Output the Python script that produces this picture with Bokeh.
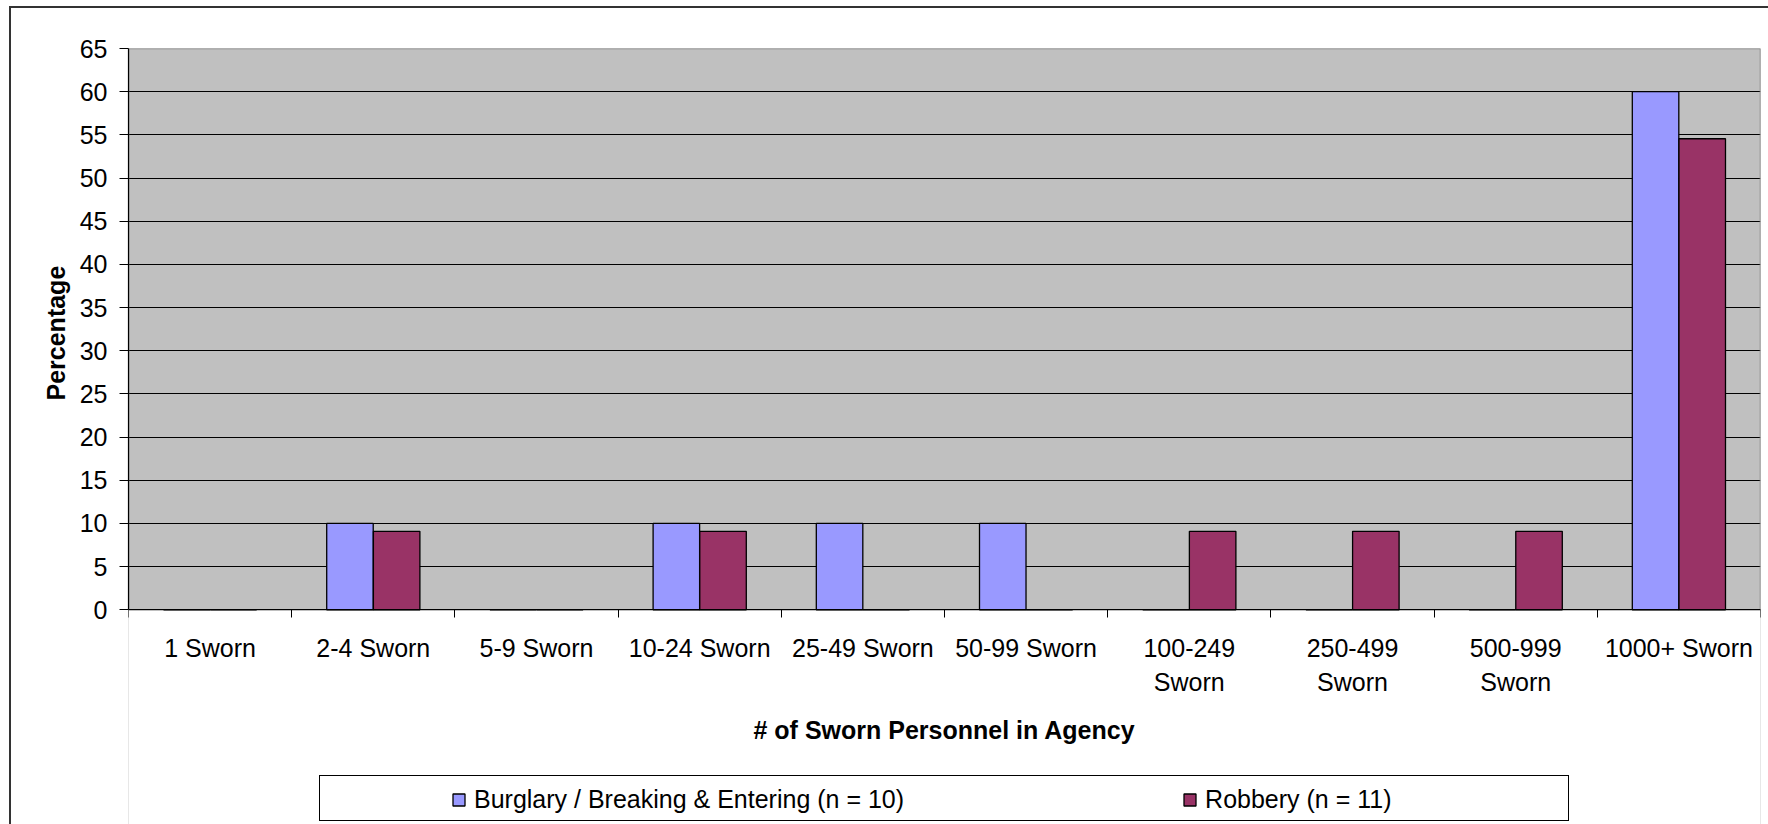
from bokeh.plotting import figure
from bokeh.models import (FixedTicker, Range1d, ColumnDataSource, Legend,
                          LegendItem, InlineStyleSheet, BoxAnnotation, Title)
from bokeh.transform import dodge
from bokeh.embed import file_html
from bokeh.resources import INLINE

# ---- data ----
categories = ["1 Sworn", "2-4 Sworn", "5-9 Sworn", "10-24 Sworn", "25-49 Sworn",
              "50-99 Sworn", "100-249\nSworn", "250-499\nSworn", "500-999\nSworn",
              "1000+ Sworn"]
burglary = [0, 10, 0, 10, 10, 10, 0, 0, 0, 60]
robbery = [0, 9.09, 0, 9.09, 0, 0, 9.09, 9.09, 9.09, 54.55]
series_names = ["Burglary / Breaking & Entering (n = 10)", "Robbery (n = 11)"]
y_ticks = [0, 5, 10, 15, 20, 25, 30, 35, 40, 45, 50, 55, 60, 65]
x_title = "# of Sworn Personnel in Agency"
y_title = "Percentage"

colors = ["#9999FF", "#993366"]
FONT = "Liberation Sans"

n = len(categories)
y_max = y_ticks[-1]
# the frame continues below the value axis so the axis texts and legend fit in it
y_below = 24.86
centers = [i + 0.5 for i in range(n)]
src = ColumnDataSource(dict(x=centers, burglary=burglary, robbery=robbery))

p = figure(width=1768, height=824,
           x_range=Range1d(0, n), y_range=Range1d(-y_below, y_max),
           output_backend="svg", toolbar_location=None,
           min_border_left=128, min_border_right=8,
           min_border_top=48, min_border_bottom=0)

p.background_fill_color = "#C0C0C0"
p.border_fill_color = "white"
p.outline_line_color = None

# white area below the plot area, and the grey plot-area border
p.add_layout(BoxAnnotation(top=0, fill_color="white", fill_alpha=1,
                           line_alpha=0, level="underlay"))
p.add_layout(BoxAnnotation(left=0, right=n, bottom=0, top=y_max, fill_alpha=0,
                           line_color="#808080", line_width=1.5, line_alpha=1,
                           level="underlay"))

bw = 0.285
r1 = p.vbar(x=dodge("x", -0.143, range=p.x_range), top="burglary", width=bw,
            source=src, fill_color=colors[0], line_color="black", line_width=1.3)
r2 = p.vbar(x=dodge("x", 0.143, range=p.x_range), top="robbery", width=bw,
            source=src, fill_color=colors[1], line_color="black", line_width=1.3)

# grid
p.xgrid.visible = False
p.ygrid.ticker = FixedTicker(ticks=y_ticks[1:-1])
p.ygrid.grid_line_color = "black"
p.ygrid.grid_line_width = 1

# y axis
ya = p.yaxis[0]
ya.ticker = FixedTicker(ticks=y_ticks)
ya.bounds = (0, y_max)
ya.axis_line_color = "black"
ya.axis_line_width = 1.2
ya.major_tick_out = 9
ya.major_tick_in = 0
ya.minor_tick_line_color = None
ya.major_label_standoff = 12
ya.major_label_text_font = FONT
ya.major_label_text_font_size = "25px"
ya.major_label_text_color = "black"

# y axis title, placed along the plot area (not the whole frame)
y_label = Title(text=y_title, align="left", offset=424, vertical_align="top",
                text_font=FONT, text_font_size="25px", text_font_style="bold",
                text_color="black")
p.add_layout(y_label, "left")

# x axis, drawn at value 0
xa = p.xaxis[0]
xa.fixed_location = 0
xa.ticker = FixedTicker(ticks=centers, minor_ticks=list(range(n + 1)))
xa.major_label_overrides = {c: lab for c, lab in zip(centers, categories)}
xa.axis_line_color = "black"
xa.axis_line_width = 1.2
xa.major_tick_line_color = None
xa.major_tick_out = 0
xa.major_tick_in = 0
xa.minor_tick_line_color = "black"
xa.minor_tick_out = 8
xa.minor_tick_in = 0
xa.major_label_standoff = 16
xa.major_label_text_font = FONT
xa.major_label_text_font_size = "25px"
xa.major_label_text_color = "black"
xa.major_label_text_line_height = 1.22
xa.axis_label = x_title
xa.axis_label_text_font = FONT
xa.axis_label_text_font_size = "25px"
xa.axis_label_text_font_style = "bold"
xa.axis_label_text_color = "black"
xa.axis_label_standoff = 17

legend = Legend(items=[LegendItem(label=series_names[0], renderers=[r1]),
                       LegendItem(label=series_names[1], renderers=[r2])],
                orientation="horizontal", location=(323, 10),
                padding=0, margin=0, spacing=278,
                glyph_width=15, glyph_height=15, label_standoff=8,
                label_height=30,
                label_text_font=FONT, label_text_font_size="25px",
                label_text_color="black",
                border_line_alpha=0, background_fill_alpha=0)
p.add_layout(legend)

# legend frame box and outer chart border (CSS boxes on the figure host)
p.stylesheets = [InlineStyleSheet(css="""
:host { position: relative; }
:host::before {
  content: ""; position: absolute; left: 9px; top: 6px;
  width: 1759px; height: 818px; box-sizing: border-box;
  border-left: 2px solid #333333; border-top: 2px solid #333333;
  pointer-events: none; z-index: 5;
}
:host::after {
  content: ""; position: absolute; left: 319px; top: 775px;
  width: 1250px; height: 46px; box-sizing: border-box;
  border: 1.5px solid #000000;
  pointer-events: none; z-index: 5;
}
""")]

open("out.html", "w").write(file_html(p, INLINE))
